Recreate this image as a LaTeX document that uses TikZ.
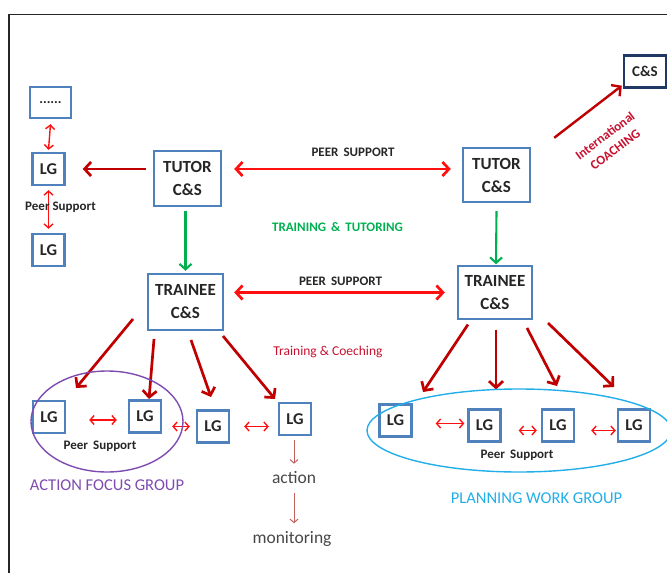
\documentclass[tikz,border=0pt]{standalone}
\usepackage{fontspec}
\setmainfont{Carlito}
\usetikzlibrary{arrows.meta,calc}
\definecolor{boxblue}{HTML}{4F81BD}
\definecolor{navy}{HTML}{1F3864}
\definecolor{darkred}{HTML}{C00000}
\definecolor{brightred}{HTML}{FF1010}
\definecolor{grn}{HTML}{00B050}
\definecolor{purp}{HTML}{7E4BB0}
\definecolor{cyanb}{HTML}{22AEE8}
\definecolor{crimson}{HTML}{C8102E}
\definecolor{softred}{HTML}{C0605D}
\definecolor{txt}{HTML}{262626}
\begin{document}
\begin{tikzpicture}[x=1pt,y=-1pt,
  box/.style={draw=boxblue,line width=2.4pt,fill=white,inner sep=0pt,text=txt,font=\bfseries,align=center},
  lgbox/.style={box,minimum width=32pt,minimum height=32pt,font=\fontsize{16.5}{18}\selectfont\bfseries},
  bigbox/.style={box,font=\fontsize{17}{23}\selectfont\bfseries},
  bigarrow/.style={draw=darkred,line width=2.7pt,-{Straight Barb[length=6.5pt,width=14pt]}},
  peerarrow/.style={draw=brightred,line width=2.7pt,{Straight Barb[length=6.5pt,width=14pt]}-{Straight Barb[length=6.5pt,width=14pt]}},
  greenarrow/.style={draw=grn,line width=2.1pt,-{Straight Barb[length=5.5pt,width=12pt]}},
  smallpeer/.style={draw=brightred,line width=1.4pt,{Straight Barb[length=4pt,width=9pt]}-{Straight Barb[length=4pt,width=9pt]}},
  softarrow/.style={draw=softred,line width=1pt,-{Straight Barb[length=3.5pt,width=8pt]}},
  lbl/.style={text=txt,font=\fontsize{13}{14}\selectfont\bfseries,inner sep=0pt},
  smalllbl/.style={text=txt,font=\fontsize{13}{14}\selectfont\bfseries,inner sep=0pt}
]
\useasboundingbox (0,0) rectangle (667,573);
\clip (0,0) rectangle (667,573);
\draw[line width=1.6pt,black!85] (9,573) -- (9,14.5) -- (667,14.5);

% ---------- top-left column
\node[box,minimum width=41pt,minimum height=31pt,font=\fontsize{14}{16}\selectfont\bfseries] (dots) at (50.5,102.5) {......};
\node[lgbox] (lgT1) at (48.5,169) {LG};
\node[lgbox] (lgT2) at (48.5,250) {LG};
\draw[smallpeer] ($(dots.south)+(0,5)$) -- ($(lgT1.north)+(0,-2)$);
\draw[smallpeer] ($(lgT1.south)+(0,4)$) -- ($(lgT2.north)+(0,-4)$);
\node[smalllbl] (psT) at (60.5,207.5) {Peer Support};

% ---------- tutors
\node[bigbox,minimum width=67pt,minimum height=55pt] (tutL) at (187.5,178.5) {TUTOR\\C\&S};
\node[bigbox,minimum width=67pt,minimum height=54pt] (tutR) at (496.5,175) {TUTOR\\C\&S};
\node[box,draw=navy,line width=2.4pt,minimum width=42pt,minimum height=32pt,font=\fontsize{15}{17}\selectfont\bfseries] (cs) at (645,71.5) {C\&S};

\draw[bigarrow] (tutL.west|-lgT1) ++(-7,0) coordinate (tA) -- ($(lgT1.east)+(17,0)$);
\draw[peerarrow] ($(tutL.east|-lgT1)+(12,0)$) -- ($(tutR.west|-lgT1)+(-11,0)$);
\node[lbl] (ps1) at (353,152) {PEER\, SUPPORT};

\draw[bigarrow,line width=2.4pt] ($(tutR.north east)+(23,-9)$) -- ($(cs.south west)+(-1,-3)$);
\node[text=crimson,font=\fontsize{13}{17}\selectfont\bfseries,rotate=37,align=center,inner sep=0pt] (intl) at (610,142.5) {International\\COACHING};

% ---------- trainees
\node[bigbox,minimum width=75pt,minimum height=56pt] (trL) at (185.5,302) {TRAINEE\\C\&S};
\node[bigbox,minimum width=74pt,minimum height=53pt] (trR) at (495,292.5) {TRAINEE\\C\&S};

\draw[greenarrow] ($(tutL.south)+(-2,4)$) -- ($(trL.north)+(0,-2)$);
\draw[greenarrow] ($(tutR.south)+(0,8)$) -- ($(trR.north)+(1,-0.5)$);
\node[lbl,text=grn] (tt) at (337.5,227) {TRAINING\, \&\, TUTORING};

\draw[peerarrow] ($(trL.east|-trR)+(10,0)$) -- ($(trR.west|-trR)+(-12,0)$);
\node[lbl] (ps2) at (340.5,281) {PEER\, SUPPORT};
\node[text=crimson,font=\fontsize{13.5}{15}\selectfont,inner sep=0pt] (tc) at (328,352) {Training \& Coeching};

% ---------- left LG group
\node[lgbox] (lgA1) at (49,417) {LG};
\node[lgbox] (lgA2) at (145,416.5) {LG};
\node[lgbox] (lgA3) at (213,426.5) {LG};
\node[lgbox] (lgA4) at (295,419) {LG};

\draw[bigarrow] ($(trL)+(-52.5,17)$) -- ($(lgA1)+(27,-29)$);
\draw[bigarrow] ($(trL)+(-31.5,37)$) -- ($(lgA2)+(4,-17.5)$);
\draw[bigarrow] ($(trL)+(5.5,38)$) -- ($(lgA3)+(-2,-29.5)$);
\draw[bigarrow] ($(trL)+(37.5,34)$) -- ($(lgA4)+(-20,-20)$);

\draw[smallpeer] ($(lgA1.east|-lgA1)+(23,3)$) -- ($(lgA2.west|-lgA1)+(-11,3)$);
\draw[smallpeer] ($(lgA2.east|-lgA3)+(10,0)$) -- ($(lgA3.west|-lgA3)+(-6,0)$);
\draw[smallpeer] ($(lgA3.east|-lgA3)+(14,0)$) -- ($(lgA4.west|-lgA3)+(-9,0)$);
\node[smalllbl] (psA) at (100,446) {Peer\, Support};
\draw[purp,line width=1.4pt] (107,421.5) ellipse [x radius=76, y radius=50.5];
\node[text=purp,font=\fontsize{16.5}{18}\selectfont,inner sep=0pt] (afg) at (107,485) {ACTION FOCUS GROUP};

\node[text=txt!85,font=\fontsize{17.5}{19}\selectfont,inner sep=0pt] (act) at (294,478) {action};
\node[text=txt!85,font=\fontsize{17.5}{19}\selectfont,inner sep=0pt] (mon) at (292,539) {monitoring};
\draw[softarrow] ($(lgA4.south)+(-1,4)$) -- ($(act.north)+(0,-8)$);
\draw[softarrow] ($(act.south)+(0,9)$) -- ($(mon.north)+(2,-8)$);

% ---------- right LG group
\node[lgbox] (lgB1) at (395.5,420.5) {LG};
\node[lgbox] (lgB2) at (484.5,425.5) {LG};
\node[lgbox] (lgB3) at (558,425.5) {LG};
\node[lgbox] (lgB4) at (634,425.5) {LG};

\draw[bigarrow] ($(trR)+(-27,32)$) -- ($(lgB1)+(27.5,-28.5)$);
\draw[bigarrow] ($(trR)+(1,37)$) -- ($(lgB2)+(11.5,-36)$);
\draw[bigarrow] ($(trR)+(32,35.5)$) -- ($(lgB3)+(-1,-39.5)$);
\draw[bigarrow] ($(trR)+(53,30.5)$) -- ($(lgB4)+(-20,-38.5)$);

\draw[smallpeer] ($(lgB1.east|-lgB1)+(23,3)$) -- ($(lgB2.west|-lgB1)+(-3,3)$);
\draw[smallpeer] ($(lgB2.east|-lgB2)+(17,5)$) -- ($(lgB3.west|-lgB2)+(-4,5)$);
\draw[smallpeer] ($(lgB3.east|-lgB3)+(16,5)$) -- ($(lgB4.west|-lgB3)+(-1,5)$);
\node[smalllbl] (psB) at (517,455) {Peer\, Support};
\draw[cyanb,line width=1.4pt] (519,430.5) ellipse [x radius=152, y radius=41.5];
\node[text=cyanb,font=\fontsize{16.5}{18}\selectfont,inner sep=0pt] (pwg) at (536.5,498) {PLANNING WORK GROUP};
\end{tikzpicture}
\end{document}
